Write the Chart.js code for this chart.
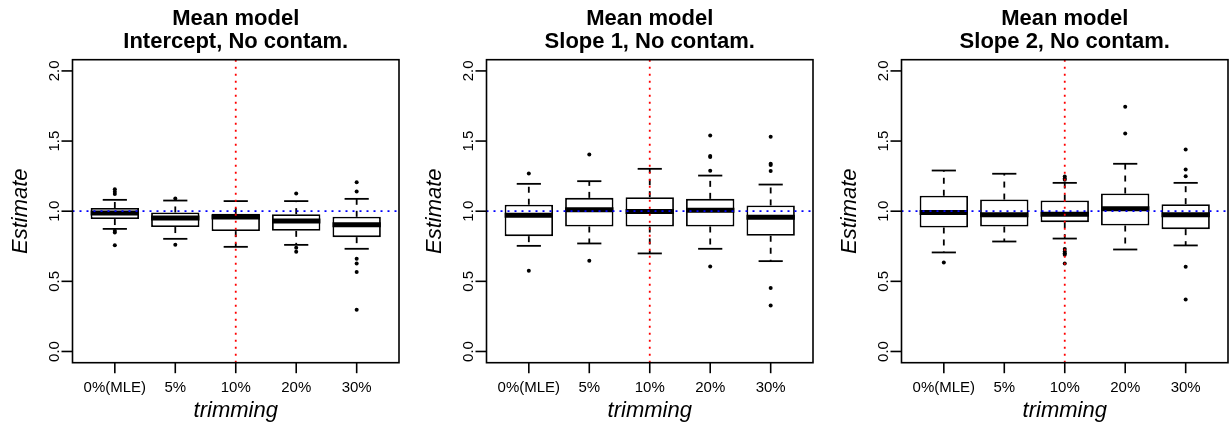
<!DOCTYPE html>
<html>
<head>
<meta charset="utf-8">
<script src="https://cdn.jsdelivr.net/npm/chart.js@4"></script>
<style>
  html, body { margin: 0; padding: 0; background: #fff; overflow: hidden; }
  body { width: 1232px; height: 425px; position: relative; }
  .panel { position: absolute; top: 0; width: 403px; height: 425px; }
</style>
</head>
<body>
<div class="panel" style="left:0px"><canvas id="p1" width="403" height="425"></canvas></div>
<div class="panel" style="left:414px"><canvas id="p2" width="403" height="425"></canvas></div>
<div class="panel" style="left:829px"><canvas id="p3" width="403" height="425"></canvas></div>
<script>
const trimLabels = ['0%(MLE)', '5%', '10%', '20%', '30%'];
const yTickValues = [0, 0.5, 1, 1.5, 2];
const trueValue = 1;     // blue dotted line
const chosenTrim = 3;    // red dotted line sits on the 10% box

// Intercept
const interceptTitle = ['Mean model', 'Intercept, No contam.'];
const interceptLo  = [0.874, 0.803, 0.746, 0.760, 0.732];
const interceptQ1  = [0.944, 0.887, 0.858, 0.860, 0.815];
const interceptMed = [0.987, 0.952, 0.958, 0.930, 0.903];
const interceptQ3  = [1.023, 0.991, 0.981, 0.979, 0.960];
const interceptHi  = [1.081, 1.076, 1.072, 1.072, 1.088];
const interceptOut = [
  [1.157, 1.138, 1.122, 0.860, 0.848, 0.758],
  [1.090, 0.760],
  [],
  [1.126, 0.739, 0.711],
  [1.207, 1.140, 0.661, 0.627, 0.566, 0.297]
];

// Slope 1
const slope1Title = ['Mean model', 'Slope 1, No contam.'];
const slope1Lo  = [0.753, 0.770, 0.699, 0.732, 0.644];
const slope1Q1  = [0.822, 0.891, 0.891, 0.891, 0.825];
const slope1Med = [0.971, 1.011, 0.997, 1.006, 0.957];
const slope1Q3  = [1.046, 1.095, 1.100, 1.088, 1.041];
const slope1Hi  = [1.195, 1.214, 1.302, 1.254, 1.190];
const slope1Out = [
  [1.269, 0.575],
  [1.404, 0.646],
  [],
  [1.540, 1.393, 1.386, 1.288, 0.606],
  [1.530, 1.338, 1.330, 1.286, 0.452, 0.328]
];

// Slope 2
const slope2Title = ['Mean model', 'Slope 2, No contam.'];
const slope2Lo  = [0.706, 0.784, 0.805, 0.727, 0.756];
const slope2Q1  = [0.884, 0.891, 0.922, 0.898, 0.872];
const slope2Med = [0.990, 0.975, 0.978, 1.018, 0.975];
const slope2Q3  = [1.110, 1.083, 1.076, 1.126, 1.050];
const slope2Hi  = [1.290, 1.267, 1.202, 1.338, 1.202];
const slope2Out = [
  [0.634],
  [],
  [1.247, 1.233, 1.224, 0.730, 0.713, 0.701, 0.689, 0.627],
  [1.744, 1.554],
  [1.440, 1.297, 1.250, 0.604, 0.371]
];

const FONT = "'Liberation Sans', Arial, Helvetica, sans-serif";

const panels = [
  { id: 'p1', title: interceptTitle, lo: interceptLo, q1: interceptQ1, med: interceptMed, q3: interceptQ3, hi: interceptHi, out: interceptOut },
  { id: 'p2', title: slope1Title, lo: slope1Lo, q1: slope1Q1, med: slope1Med, q3: slope1Q3, hi: slope1Hi, out: slope1Out },
  { id: 'p3', title: slope2Title, lo: slope2Lo, q1: slope2Q1, med: slope2Med, q3: slope2Q3, hi: slope2Hi, out: slope2Out }
];

function seg(ctx, x1, y1, x2, y2) {
  ctx.beginPath();
  ctx.moveTo(x1, y1);
  ctx.lineTo(x2, y2);
  ctx.stroke();
}

// whiskers, medians, reference lines, frame and axes for one panel
function boxParts(p) {
  return {
    id: 'boxParts',
    beforeDatasetsDraw(chart) {
      const { ctx, scales: { x, y } } = chart;
      const unit = x.getPixelForValue(2) - x.getPixelForValue(1);
      ctx.save();
      ctx.strokeStyle = '#000';
      ctx.lineWidth = 1.8;
      p.q1.forEach((_, i) => {
        const cx = x.getPixelForValue(i + 1);
        ctx.setLineDash([6, 6]);
        seg(ctx, cx, y.getPixelForValue(p.q3[i]), cx, y.getPixelForValue(p.hi[i]));
        seg(ctx, cx, y.getPixelForValue(p.q1[i]), cx, y.getPixelForValue(p.lo[i]));
        ctx.setLineDash([]);
        seg(ctx, cx - 0.2 * unit, y.getPixelForValue(p.hi[i]), cx + 0.2 * unit, y.getPixelForValue(p.hi[i]));
        seg(ctx, cx - 0.2 * unit, y.getPixelForValue(p.lo[i]), cx + 0.2 * unit, y.getPixelForValue(p.lo[i]));
      });
      ctx.restore();
    },
    afterDatasetsDraw(chart) {
      const { ctx, chartArea: a, scales: { x, y } } = chart;
      const unit = x.getPixelForValue(2) - x.getPixelForValue(1);
      const midX = (a.left + a.right) / 2;
      ctx.save();

      // medians
      ctx.strokeStyle = '#000';
      ctx.lineWidth = 5;
      p.med.forEach((m, i) => {
        const cx = x.getPixelForValue(i + 1);
        const py = y.getPixelForValue(m);
        seg(ctx, cx - 0.4 * unit, py, cx + 0.4 * unit, py);
      });

      // dotted reference lines
      ctx.lineWidth = 1.8;
      ctx.setLineDash([2, 5]);
      ctx.strokeStyle = '#0000ff';
      const ry = y.getPixelForValue(trueValue);
      seg(ctx, a.left, ry, a.right, ry);
      ctx.strokeStyle = '#ff0000';
      const rx = x.getPixelForValue(chosenTrim);
      seg(ctx, rx, a.top, rx, a.bottom);
      ctx.setLineDash([]);

      // frame
      ctx.strokeStyle = '#000';
      ctx.lineWidth = 1.6;
      ctx.strokeRect(a.left, a.top, a.right - a.left, a.bottom - a.top);

      // y axis ticks and rotated labels
      ctx.fillStyle = '#000';
      ctx.font = '15px ' + FONT;
      ctx.textAlign = 'center';
      ctx.textBaseline = 'alphabetic';
      yTickValues.forEach(v => {
        const py = y.getPixelForValue(v);
        seg(ctx, a.left - 11, py, a.left, py);
        ctx.save();
        ctx.translate(a.left - 13.5, py);
        ctx.rotate(-Math.PI / 2);
        ctx.fillText(v.toFixed(1), 0, 0);
        ctx.restore();
      });

      // x axis ticks and labels
      trimLabels.forEach((lab, i) => {
        const px = x.getPixelForValue(i + 1);
        seg(ctx, px, a.bottom, px, a.bottom + 10.5);
        ctx.fillText(lab, px, 392);
      });

      // axis titles
      ctx.font = 'italic 22px ' + FONT;
      ctx.fillText('trimming', midX, 417);
      ctx.save();
      ctx.translate(a.left - 46, (a.top + a.bottom) / 2);
      ctx.rotate(-Math.PI / 2);
      ctx.fillText('Estimate', 0, 0);
      ctx.restore();

      // main title
      ctx.font = 'bold 22px ' + FONT;
      ctx.fillText(p.title[0], midX, 25);
      ctx.fillText(p.title[1], midX, 47.7);

      ctx.restore();
    }
  };
}

panels.forEach(p => {
  const boxes = p.q1.map((v, i) => ({ x: i + 1, y: [v, p.q3[i]] }));
  const outliers = [];
  p.out.forEach((vals, i) => vals.forEach(v => outliers.push({ x: i + 1, y: v })));

  new Chart(document.getElementById(p.id), {
    type: 'bar',
    data: {
      datasets: [
        {
          type: 'bar',
          data: boxes,
          backgroundColor: '#ffffff',
          borderColor: '#000000',
          borderWidth: 1.8,
          borderSkipped: false,
          barPercentage: 0.8,
          categoryPercentage: 1
        },
        {
          type: 'scatter',
          data: outliers,
          pointRadius: 2,
          pointBackgroundColor: '#000000',
          pointBorderWidth: 0
        }
      ]
    },
    options: {
      responsive: false,
      devicePixelRatio: 1,
      animation: false,
      layout: { padding: { left: 72.5, right: 0.5, top: 59.7, bottom: 62.3 } },
      plugins: { legend: { display: false }, tooltip: { enabled: false } },
      scales: {
        x: {
          type: 'linear', min: 0.3, max: 5.7, offset: false, display: false,
          afterBuildTicks: s => { s.ticks = trimLabels.map((_, i) => ({ value: i + 1 })); }
        },
        y: { min: -0.08, max: 2.08, display: false }
      }
    },
    plugins: [boxParts(p)]
  });
});
</script>
</body>
</html>
